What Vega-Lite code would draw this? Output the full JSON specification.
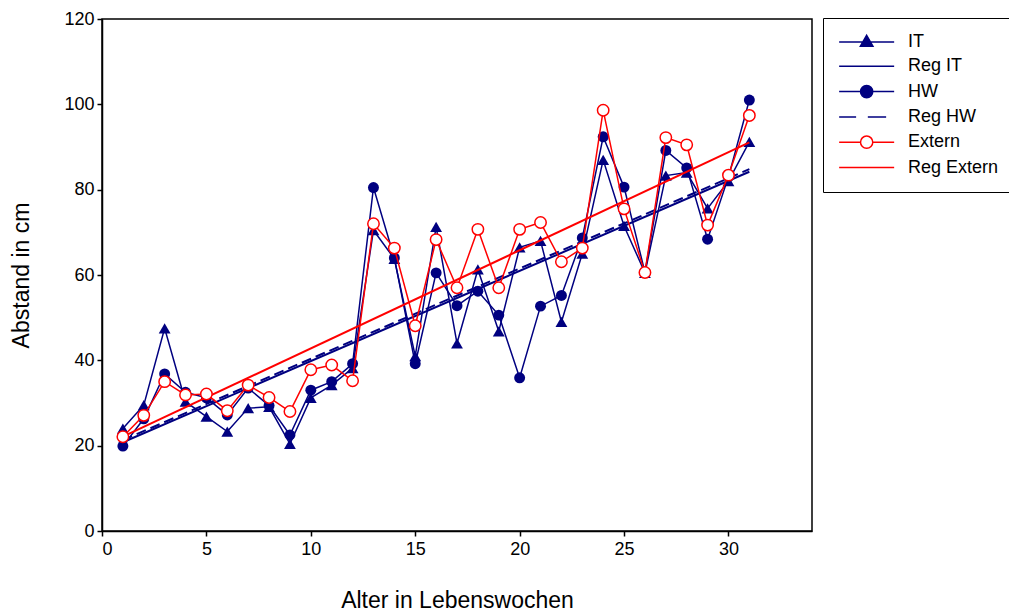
{
  "$schema": "https://vega.github.io/schema/vega-lite/v6.json",
  "autosize": {"type": "none"},
  "width": 710,
  "height": 512,
  "padding": {"left": 102, "top": 19, "right": 197, "bottom": 82},
  "background": "white",
  "config": {
    "font": "Liberation Sans",
    "view": {"stroke": "black", "strokeWidth": 1.5},
    "axis": {
      "grid": false,
      "domainColor": "black",
      "domainWidth": 1.5,
      "tickColor": "black",
      "tickWidth": 1.5,
      "tickSize": 5,
      "labelFont": "Liberation Sans",
      "labelFontSize": 18,
      "labelColor": "black",
      "titleFont": "Liberation Sans",
      "titleFontSize": 23,
      "titleFontWeight": "normal",
      "titleColor": "black"
    }
  },
  "datasets": {
    "pts": [
      {"w":1,"s":"IT","v":24},{"w":2,"s":"IT","v":29.5},{"w":3,"s":"IT","v":47.5},{"w":4,"s":"IT","v":30.3},{"w":5,"s":"IT","v":26.8},{"w":6,"s":"IT","v":23.3},{"w":7,"s":"IT","v":28.8},{"w":8,"s":"IT","v":29.1},{"w":9,"s":"IT","v":20.4},{"w":10,"s":"IT","v":31.2},{"w":11,"s":"IT","v":34.2},{"w":12,"s":"IT","v":38.2},{"w":13,"s":"IT","v":70.5},{"w":14,"s":"IT","v":63.8},{"w":15,"s":"IT","v":41},{"w":16,"s":"IT","v":71.3},{"w":17,"s":"IT","v":44},{"w":18,"s":"IT","v":61.3},{"w":19,"s":"IT","v":46.8},{"w":20,"s":"IT","v":66.5},{"w":21,"s":"IT","v":68},{"w":22,"s":"IT","v":49},{"w":23,"s":"IT","v":65},{"w":24,"s":"IT","v":87},{"w":25,"s":"IT","v":71.5},{"w":26,"s":"IT","v":60.5},{"w":27,"s":"IT","v":83.3},{"w":28,"s":"IT","v":84},{"w":29,"s":"IT","v":75.6},{"w":30,"s":"IT","v":82},{"w":31,"s":"IT","v":91.2},
      {"w":1,"s":"HW","v":19.9},{"w":2,"s":"HW","v":26.3},{"w":3,"s":"HW","v":36.8},{"w":4,"s":"HW","v":32.5},{"w":5,"s":"HW","v":31.2},{"w":6,"s":"HW","v":27.2},{"w":7,"s":"HW","v":33.5},{"w":8,"s":"HW","v":29.4},{"w":9,"s":"HW","v":22.5},{"w":10,"s":"HW","v":33},{"w":11,"s":"HW","v":35},{"w":12,"s":"HW","v":39.2},{"w":13,"s":"HW","v":80.5},{"w":14,"s":"HW","v":64},{"w":15,"s":"HW","v":39.2},{"w":16,"s":"HW","v":60.5},{"w":17,"s":"HW","v":52.8},{"w":18,"s":"HW","v":56.2},{"w":19,"s":"HW","v":50.6},{"w":20,"s":"HW","v":35.9},{"w":21,"s":"HW","v":52.7},{"w":22,"s":"HW","v":55.2},{"w":23,"s":"HW","v":68.7},{"w":24,"s":"HW","v":92.4},{"w":25,"s":"HW","v":80.6},{"w":26,"s":"HW","v":60.6},{"w":27,"s":"HW","v":89.2},{"w":28,"s":"HW","v":85.1},{"w":29,"s":"HW","v":68.4},{"w":30,"s":"HW","v":83},{"w":31,"s":"HW","v":101},
      {"w":1,"s":"Extern","v":22.1},{"w":2,"s":"Extern","v":27.1},{"w":3,"s":"Extern","v":35},{"w":4,"s":"Extern","v":31.9},{"w":5,"s":"Extern","v":32.1},{"w":6,"s":"Extern","v":28.2},{"w":7,"s":"Extern","v":34.2},{"w":8,"s":"Extern","v":31.3},{"w":9,"s":"Extern","v":28},{"w":10,"s":"Extern","v":37.8},{"w":11,"s":"Extern","v":38.9},{"w":12,"s":"Extern","v":35.2},{"w":13,"s":"Extern","v":72},{"w":14,"s":"Extern","v":66.3},{"w":15,"s":"Extern","v":48.1},{"w":16,"s":"Extern","v":68.3},{"w":17,"s":"Extern","v":57},{"w":18,"s":"Extern","v":70.7},{"w":19,"s":"Extern","v":57},{"w":20,"s":"Extern","v":70.7},{"w":21,"s":"Extern","v":72.3},{"w":22,"s":"Extern","v":63.1},{"w":23,"s":"Extern","v":66.3},{"w":24,"s":"Extern","v":98.6},{"w":25,"s":"Extern","v":75.5},{"w":26,"s":"Extern","v":60.6},{"w":27,"s":"Extern","v":92.2},{"w":28,"s":"Extern","v":90.5},{"w":29,"s":"Extern","v":71.7},{"w":30,"s":"Extern","v":83.4},{"w":31,"s":"Extern","v":97.4}
    ],
    "reg": [
      {"w":1,"s":"Reg IT","v":20.8},{"w":31,"s":"Reg IT","v":84.2},
      {"w":1,"s":"Reg HW","v":21.3},{"w":31,"s":"Reg HW","v":84.8},
      {"w":1,"s":"Reg Extern","v":22.1},{"w":31,"s":"Reg Extern","v":91.1}
    ],
    "leg": [
      {"s":"IT"},{"s":"Reg IT"},{"s":"HW"},{"s":"Reg HW"},{"s":"Extern"},{"s":"Reg Extern"}
    ]
  },
  "encoding": {
    "x": {"field": "w", "type": "quantitative",
      "scale": {"domain": [0, 34], "nice": false, "zero": false},
      "axis": {"title": "Alter in Lebenswochen", "values": [0,5,10,15,20,25,30], "labelPadding": 4, "titlePadding": 31}},
    "y": {"field": "v", "type": "quantitative",
      "scale": {"domain": [0, 120], "nice": false},
      "axis": {"title": "Abstand in cm", "values": [0,20,40,60,80,100,120], "labelPadding": 3, "titlePadding": 30}}
  },
  "layer": [
    {
      "data": {"name": "pts"},
      "transform": [{"filter": "datum.s === 'IT'"}],
      "mark": {"type": "line", "color": "#000080", "strokeWidth": 1.5},
      "encoding": {}
    },
    {
      "data": {"name": "pts"},
      "transform": [{"filter": "datum.s === 'IT'"}],
      "mark": {"type": "point", "shape": "triangle-up", "filled": true, "color": "#000080", "opacity": 1, "size": 140},
      "encoding": {}
    },
    {
      "data": {"name": "pts"},
      "transform": [{"filter": "datum.s === 'HW'"}],
      "mark": {"type": "line", "color": "#000080", "strokeWidth": 1.5},
      "encoding": {}
    },
    {
      "data": {"name": "pts"},
      "transform": [{"filter": "datum.s === 'HW'"}],
      "mark": {"type": "point", "shape": "circle", "filled": true, "color": "#000080", "opacity": 1, "size": 120},
      "encoding": {}
    },
    {
      "data": {"name": "reg"},
      "transform": [{"filter": "datum.s === 'Reg IT'"}],
      "mark": {"type": "line", "color": "#000080", "strokeWidth": 2},
      "encoding": {}
    },
    {
      "data": {"name": "reg"},
      "transform": [{"filter": "datum.s === 'Reg HW'"}],
      "mark": {"type": "line", "color": "#000080", "strokeWidth": 2, "strokeDash": [10, 5]},
      "encoding": {}
    },
    {
      "data": {"name": "reg"},
      "transform": [{"filter": "datum.s === 'Reg Extern'"}],
      "mark": {"type": "line", "color": "#FF0000", "strokeWidth": 2},
      "encoding": {}
    },
    {
      "data": {"name": "pts"},
      "transform": [{"filter": "datum.s === 'Extern'"}],
      "mark": {"type": "line", "color": "#FF0000", "strokeWidth": 1.5},
      "encoding": {}
    },
    {
      "data": {"name": "pts"},
      "transform": [{"filter": "datum.s === 'Extern'"}],
      "mark": {"type": "point", "shape": "circle", "filled": false, "fill": "white", "stroke": "#FF0000", "strokeWidth": 1.5, "opacity": 1, "fillOpacity": 1, "size": 130},
      "encoding": {}
    },
    {
      "data": {"name": "leg"},
      "transform": [{"filter": "false"}],
      "mark": {"type": "point", "filled": true, "opacity": 1},
      "encoding": {
        "x": {"value": 0},
        "y": {"value": 0},
        "shape": {"field": "s", "type": "nominal",
          "scale": {"domain": ["IT","Reg IT","HW","Reg HW","Extern","Reg Extern"],
            "range": [
              "M-1,0L6,0M2.5,-0.85L3.3,0.55L1.7,0.55Z",
              "M-1,0L6,0",
              "M-1,0L6,0M1.72,0A0.78,0.78 0 1,0 3.28,0A0.78,0.78 0 1,0 1.72,0Z",
              "M-1,0L1.16,0M2.65,0L4.98,0",
              "M-1,0L1.72,0M3.28,0L6,0M1.72,0A0.78,0.78 0 1,0 3.28,0A0.78,0.78 0 1,0 1.72,0Z",
              "M-1,0L6,0"
            ]},
          "legend": {
            "title": null,
            "orient": "none",
            "legendX": 721,
            "legendY": -1,
            "strokeColor": "black",
            "fillColor": "white",
            "padding": 15,
            "cornerRadius": 0,
            "symbolSize": 247,
            "symbolStrokeWidth": 1.5,
            "labelOffset": 52,
            "labelFont": "Liberation Sans",
            "labelFontSize": 18,
            "labelColor": "black",
            "labelLimit": 300,
            "rowPadding": 6.3
          }},
        "fill": {"field": "s", "type": "nominal",
          "scale": {"domain": ["IT","Reg IT","HW","Reg HW","Extern","Reg Extern"],
            "range": ["#000080","transparent","#000080","transparent","white","transparent"]}},
        "stroke": {"field": "s", "type": "nominal",
          "scale": {"domain": ["IT","Reg IT","HW","Reg HW","Extern","Reg Extern"],
            "range": ["#000080","#000080","#000080","#000080","#FF0000","#FF0000"]}}
      }
    }
  ]
}
